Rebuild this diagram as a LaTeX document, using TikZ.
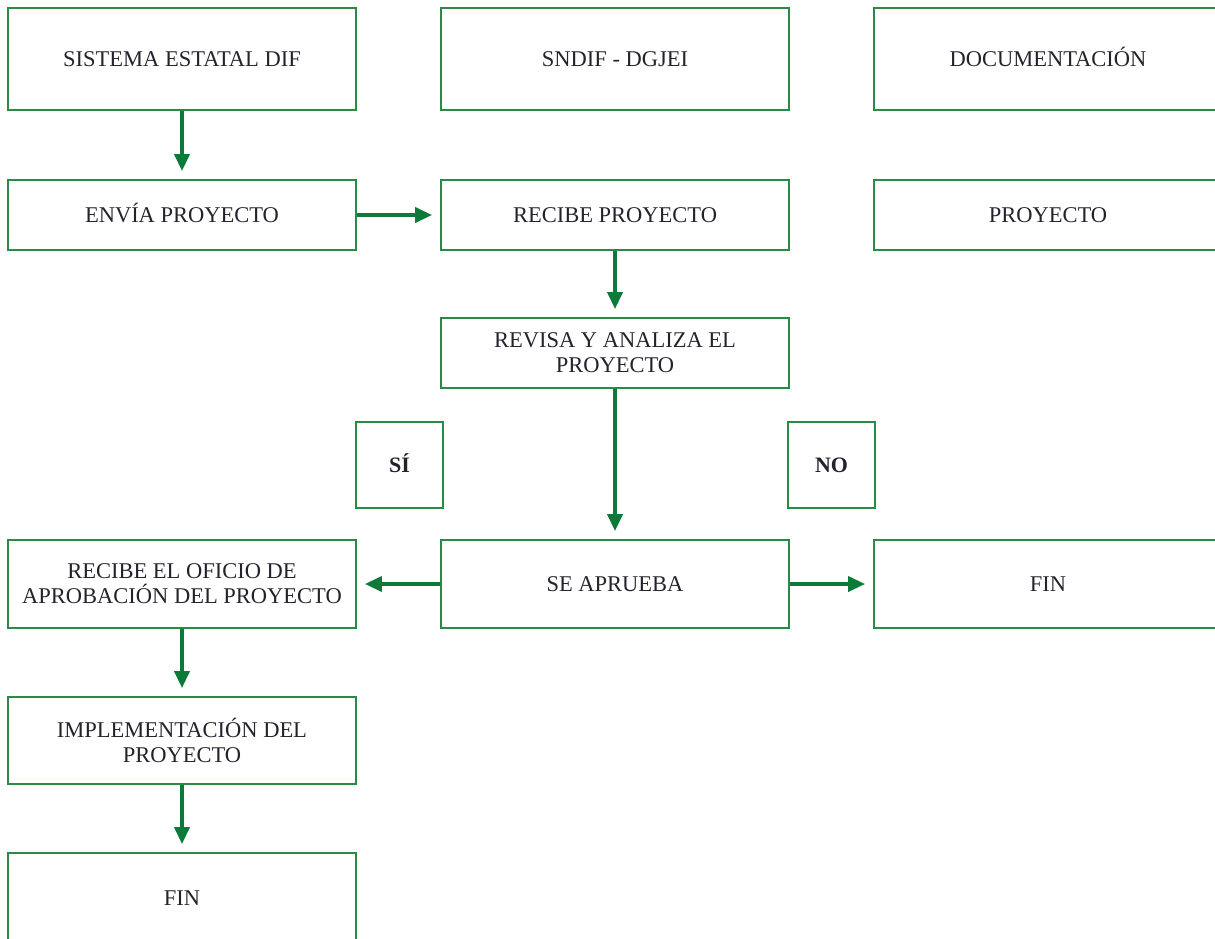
\documentclass[tikz,border=0pt]{standalone}
\usepackage{fontspec}
\setmainfont{Liberation Serif}
\usetikzlibrary{arrows.meta}
\definecolor{boxgreen}{RGB}{40,140,70}
\definecolor{arrgreen}{RGB}{12,122,56}
\definecolor{txt}{RGB}{35,35,45}
\tikzset{
  fbox/.style={draw=boxgreen, line width=1.8pt, minimum width=348pt, inner sep=0pt,
    align=center, text=txt, font=\fontsize{22.5}{25}\selectfont},
  oneline/.style={text height=15pt, text depth=0pt},
  sbox/.style={draw=boxgreen, line width=1.8pt, minimum width=87pt, minimum height=86pt,
    inner sep=0pt, text=txt, text height=15pt, text depth=0pt, font=\fontsize{22}{25}\selectfont\bfseries},
  flow/.style={draw=arrgreen, line width=3.6pt, -{Triangle[length=17pt,width=15pt]}, shorten >=8pt}
}
\begin{document}
\begin{tikzpicture}[x=1pt,y=-1pt]
\useasboundingbox (0,0) rectangle (1215,939);
% row 1
\node[fbox, oneline, minimum height=102pt] (sed) at (182,59) {SISTEMA ESTATAL DIF};
\node[fbox, oneline, minimum height=102pt] (sndif) at (615,59) {SNDIF - DGJEI};
\node[fbox, oneline, minimum height=102pt] (doc) at (1048,59) {DOCUMENTACIÓN};
% row 2
\node[fbox, oneline, minimum height=70pt] (envia) at (182,215) {ENVÍA PROYECTO};
\node[fbox, oneline, minimum height=70pt] (recibe) at (615,215) {RECIBE PROYECTO};
\node[fbox, oneline, minimum height=70pt] (proy) at (1048,215) {PROYECTO};
% row 3
\node[fbox, minimum height=70pt] (revisa) at (615,353) {REVISA Y ANALIZA EL\\PROYECTO};
% si / no
\node[sbox] (si) at (399.5,465) {SÍ};
\node[sbox] (no) at (831.5,465) {NO};
% row 4
\node[fbox, minimum height=88pt] (oficio) at (182,584) {RECIBE EL OFICIO DE\\APROBACIÓN DEL PROYECTO};
\node[fbox, oneline, minimum height=88pt] (aprueba) at (615,584) {SE APRUEBA};
\node[fbox, oneline, minimum height=88pt] (fin1) at (1048,584) {FIN};
% row 5
\node[fbox, minimum height=87pt] (impl) at (182,740.5) {IMPLEMENTACIÓN DEL\\PROYECTO};
\node[fbox, oneline, minimum height=90pt] (fin2) at (182,898) {FIN};
% connectors
\draw[flow] (sed) -- (envia);
\draw[flow] (envia) -- (recibe);
\draw[flow] (recibe) -- (revisa);
\draw[flow] (revisa) -- (aprueba);
\draw[flow] (aprueba) -- (oficio);
\draw[flow] (aprueba) -- (fin1);
\draw[flow] (oficio) -- (impl);
\draw[flow] (impl) -- (fin2);
\end{tikzpicture}
\end{document}
